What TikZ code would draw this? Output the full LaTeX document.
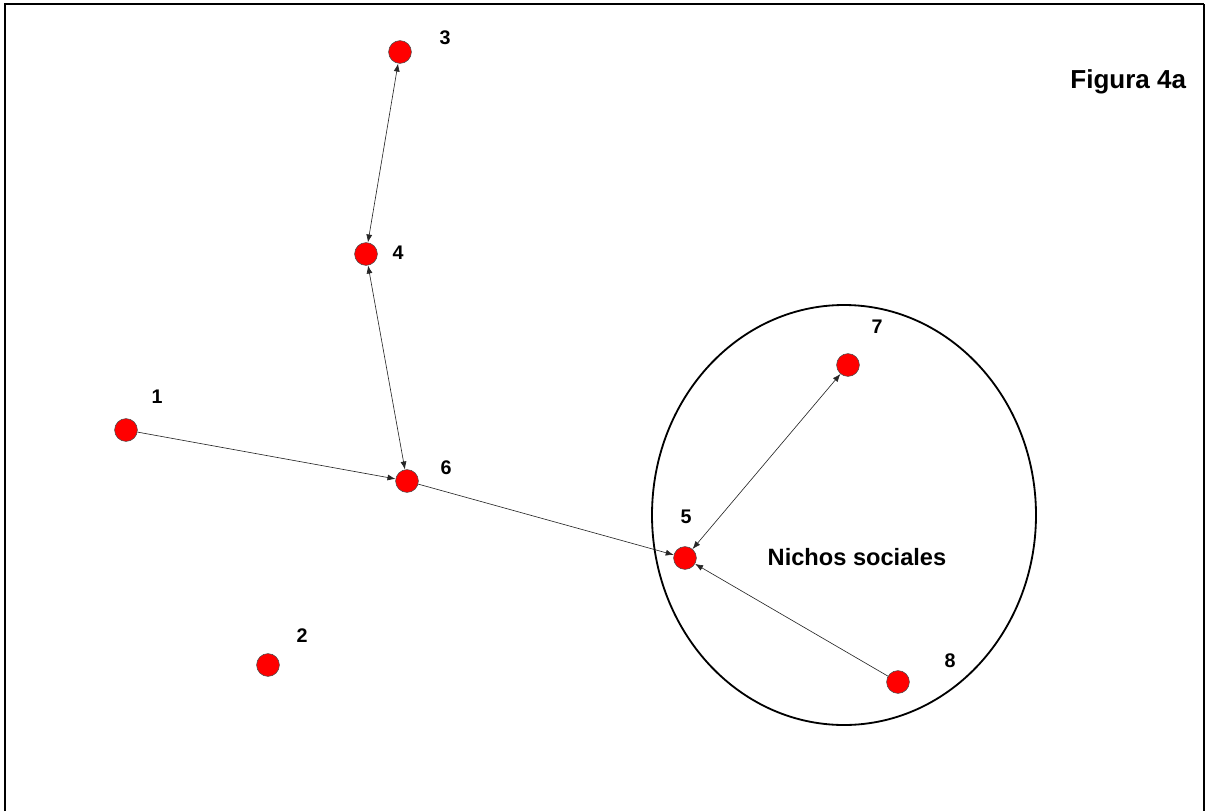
\documentclass[tikz,border=0pt]{standalone}
\usepackage{fontspec}
\setmainfont{Liberation Sans}
\usetikzlibrary{arrows.meta}

\begin{document}
\begin{tikzpicture}[x=0.025cm, y=-0.025cm, every node/.style={font=\bfseries\fontsize{14}{16}\selectfont},
	actor/.style={circle, fill=red, draw=black!70, line width=0.4pt, minimum size=0.57cm, inner sep=0pt},
	tie/.style={line width=0.45pt, black!85}, >={Latex[length=2mm, width=1.5mm]}]
	\useasboundingbox (0,0) rectangle (1206,811);
	% frame
	\draw[line width=1.6pt] (5,811) -- (5,4) -- (1204,4);
	\draw[line width=0.9pt] (1204,4) -- (1204,811);
	% actors
	\node[actor] (n3) at (400,52) {};
	\node[actor] (n4) at (366,254) {};
	\node[actor] (n1) at (126,430) {};
	\node[actor] (n6) at (407,481) {};
	\node[actor] (n5) at (685,558) {};
	\node[actor] (n7) at (848,365) {};
	\node[actor] (n2) at (268,665) {};
	\node[actor] (n8) at (898,682) {};
	\node (l3) at (445,38) {3};
	\node (l4) at (398,253) {4};
	\node (l1) at (157,397) {1};
	\node (l6) at (446,468) {6};
	\node (l5) at (686,517) {5};
	\node (l7) at (877,327) {7};
	\node (l2) at (302,636) {2};
	\node (l8) at (950,661) {8};
	% ties
	\draw[tie, <->] (n3) -- (n4);
	\draw[tie, <->] (n4) -- (n6);
	\draw[tie, ->] (n1) -- (n6);
	\draw[tie, ->] (n6) -- (n5);
	\draw[tie, <->] (n7) -- (n5);
	\draw[tie, ->] (n8) -- (n5);
	% niche
	\draw[line width=1.3pt] (844,515) ellipse [x radius=192, y radius=210];
	\node[font=\bfseries\fontsize{16.8}{19}\selectfont] (niche) at (857,557) {Nichos sociales};
	\node[font=\bfseries\fontsize{18.5}{21}\selectfont, anchor=east] (title) at (1191,82) {Figura 4a};
\end{tikzpicture}
\end{document}
